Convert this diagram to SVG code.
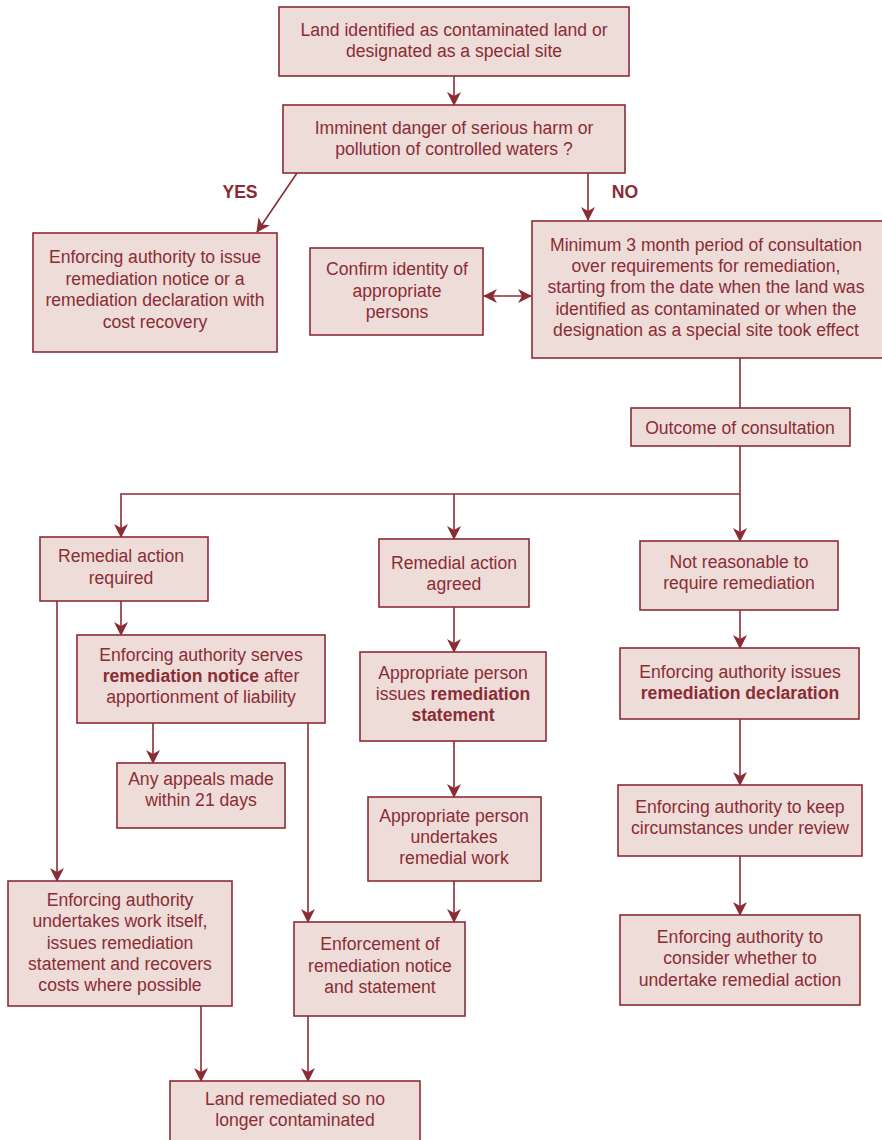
<svg xmlns="http://www.w3.org/2000/svg" width="882" height="1140" viewBox="0 0 882 1140">
<style>
.b{fill:#eedcd8;stroke:#8b2c35;stroke-width:1.6}
.t{font-family:"Liberation Sans",Arial,sans-serif;font-size:17.6px;fill:#8b2c35;text-anchor:middle}
.bd{font-weight:bold}
.c{fill:none;stroke:#8b2c35;stroke-width:1.6}
</style>
<defs>
<marker id="ah" markerUnits="userSpaceOnUse" markerWidth="14" markerHeight="14" viewBox="0 0 14 14" refX="13" refY="7" orient="auto-start-reverse">
<path d="M0,0 L14,7 L0,14 L4,7 z" fill="#8b2c35"/>
</marker>
</defs>
<rect width="882" height="1140" fill="#fff"/>
<g id="connectors">
<line class="c" x1="454" y1="76" x2="454" y2="105" marker-end="url(#ah)"/>
<line class="c" x1="297" y1="173" x2="257" y2="232" marker-end="url(#ah)"/>
<line class="c" x1="588" y1="173" x2="588" y2="220" marker-end="url(#ah)"/>
<line class="c" x1="484" y1="296" x2="531" y2="296" marker-start="url(#ah)" marker-end="url(#ah)"/>
<line class="c" x1="740" y1="358" x2="740" y2="408"/>
<polyline class="c" points="740,446 740,494"/>
<polyline class="c" points="740,494 121,494 121,537" marker-end="url(#ah)"/>
<line class="c" x1="454" y1="494" x2="454" y2="539" marker-end="url(#ah)"/>
<line class="c" x1="740" y1="494" x2="740" y2="541" marker-end="url(#ah)"/>
<line class="c" x1="121" y1="601" x2="121" y2="635" marker-end="url(#ah)"/>
<line class="c" x1="57" y1="601" x2="57" y2="881" marker-end="url(#ah)"/>
<line class="c" x1="153" y1="723" x2="153" y2="763" marker-end="url(#ah)"/>
<line class="c" x1="308" y1="723" x2="308" y2="922" marker-end="url(#ah)"/>
<line class="c" x1="454" y1="607" x2="454" y2="652" marker-end="url(#ah)"/>
<line class="c" x1="454" y1="741" x2="454" y2="797" marker-end="url(#ah)"/>
<line class="c" x1="454" y1="881" x2="454" y2="922" marker-end="url(#ah)"/>
<line class="c" x1="201" y1="1006" x2="201" y2="1081" marker-end="url(#ah)"/>
<line class="c" x1="308" y1="1016" x2="308" y2="1081" marker-end="url(#ah)"/>
<line class="c" x1="740" y1="610" x2="740" y2="648" marker-end="url(#ah)"/>
<line class="c" x1="740" y1="719" x2="740" y2="785" marker-end="url(#ah)"/>
<line class="c" x1="740" y1="856" x2="740" y2="915" marker-end="url(#ah)"/>
<text class="t bd" x="240" y="198">YES</text>
<text class="t bd" x="625" y="198">NO</text>
</g>
<g id="n1"><rect class="b" x="279" y="7" width="350" height="69"/>
<text class="t" x="454" y="36">Land identified as contaminated land or</text>
<text class="t" x="454" y="57">designated as a special site</text></g>
<g id="n2"><rect class="b" x="283" y="105" width="342" height="68"/>
<text class="t" x="454" y="134">Imminent danger of serious harm or</text>
<text class="t" x="454" y="155">pollution of controlled waters ?</text></g>
<g id="n3"><rect class="b" x="33" y="233" width="244" height="119"/>
<text class="t" x="155" y="263">Enforcing authority to issue</text>
<text class="t" x="155" y="285">remediation notice or a</text>
<text class="t" x="155" y="306">remediation declaration with</text>
<text class="t" x="155" y="328">cost recovery</text></g>
<g id="n4"><rect class="b" x="310" y="248" width="173" height="87"/>
<text class="t" x="397" y="275">Confirm identity of</text>
<text class="t" x="397" y="297">appropriate</text>
<text class="t" x="397" y="318">persons</text></g>
<g id="n5"><rect class="b" x="532" y="221" width="352" height="137"/>
<text class="t" x="706" y="251">Minimum 3 month period of consultation</text>
<text class="t" x="706" y="272">over requirements for remediation,</text>
<text class="t" x="706" y="293">starting from the date when the land was</text>
<text class="t" x="706" y="315">identified as contaminated or when the</text>
<text class="t" x="706" y="336">designation as a special site took effect</text></g>
<g id="n6"><rect class="b" x="631" y="408" width="219" height="38"/>
<text class="t" x="740" y="434">Outcome of consultation</text></g>
<g id="n7"><rect class="b" x="40" y="537" width="168" height="64"/>
<text class="t" x="121" y="562">Remedial action</text>
<text class="t" x="121" y="584">required</text></g>
<g id="n8"><rect class="b" x="379" y="539" width="150" height="68"/>
<text class="t" x="454" y="569">Remedial action</text>
<text class="t" x="454" y="590">agreed</text></g>
<g id="n9"><rect class="b" x="640" y="541" width="198" height="69"/>
<text class="t" x="739" y="568">Not reasonable to</text>
<text class="t" x="739" y="589">require remediation</text></g>
<g id="n10"><rect class="b" x="77" y="635" width="248" height="88"/>
<text class="t" x="201" y="661">Enforcing authority serves</text>
<text class="t" x="201" y="682"><tspan class="bd">remediation notice</tspan> after</text>
<text class="t" x="201" y="703">apportionment of liability</text></g>
<g id="n11"><rect class="b" x="117" y="763" width="168" height="65"/>
<text class="t" x="201" y="785">Any appeals made</text>
<text class="t" x="201" y="806">within 21 days</text></g>
<g id="n12"><rect class="b" x="360" y="652" width="186" height="89"/>
<text class="t" x="453" y="679">Appropriate person</text>
<text class="t" x="453" y="700">issues <tspan class="bd">remediation</tspan></text>
<text class="t bd" x="453" y="721">statement</text></g>
<g id="n13"><rect class="b" x="368" y="797" width="173" height="84"/>
<text class="t" x="454" y="822">Appropriate person</text>
<text class="t" x="454" y="843">undertakes</text>
<text class="t" x="454" y="864">remedial work</text></g>
<g id="n14"><rect class="b" x="294" y="922" width="171" height="94"/>
<text class="t" x="380" y="950">Enforcement of</text>
<text class="t" x="380" y="972">remediation notice</text>
<text class="t" x="380" y="993">and statement</text></g>
<g id="n15"><rect class="b" x="8" y="881" width="224" height="125"/>
<text class="t" x="120" y="906">Enforcing authority</text>
<text class="t" x="120" y="927">undertakes work itself,</text>
<text class="t" x="120" y="949">issues remediation</text>
<text class="t" x="120" y="970">statement and recovers</text>
<text class="t" x="120" y="991">costs where possible</text></g>
<g id="n16"><rect class="b" x="170" y="1081" width="250" height="62"/>
<text class="t" x="295" y="1105">Land remediated so no</text>
<text class="t" x="295" y="1126">longer contaminated</text></g>
<g id="n17"><rect class="b" x="620" y="648" width="239" height="71"/>
<text class="t" x="740" y="678">Enforcing authority issues</text>
<text class="t bd" x="740" y="699">remediation declaration</text></g>
<g id="n18"><rect class="b" x="618" y="785" width="244" height="71"/>
<text class="t" x="740" y="813">Enforcing authority to keep</text>
<text class="t" x="740" y="834">circumstances under review</text></g>
<g id="n19"><rect class="b" x="620" y="915" width="240" height="90"/>
<text class="t" x="740" y="943">Enforcing authority to</text>
<text class="t" x="740" y="964">consider whether to</text>
<text class="t" x="740" y="986">undertake remedial action</text></g>
</svg>
